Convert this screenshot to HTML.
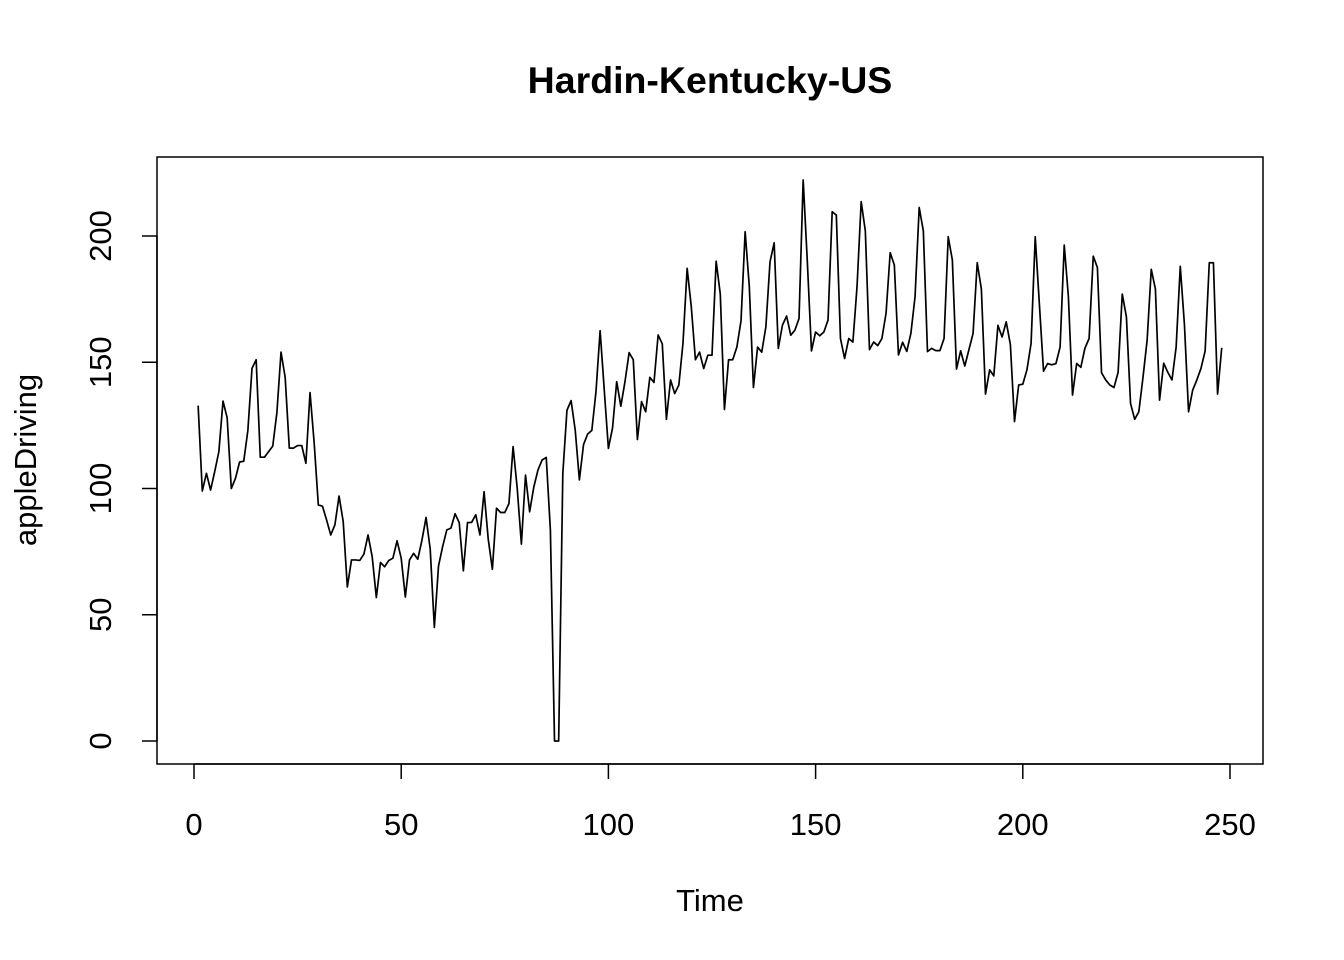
<!DOCTYPE html>
<html><head><meta charset="utf-8"><style>
html,body{margin:0;padding:0;background:#fff;}
svg{display:block;font-family:"Liberation Sans",Arial,sans-serif;}
</style></head><body>
<svg id="chart" width="1344" height="960" viewBox="0 0 1344 960" xmlns="http://www.w3.org/2000/svg">
<rect width="1344" height="960" fill="#fff"/>
<text x="710" y="93" text-anchor="middle" font-size="37.5" font-weight="bold">Hardin-Kentucky-US</text>
<rect x="157" y="157" width="1106" height="607" fill="none" stroke="#000" stroke-width="1.5"/>
<g id="xaxis"></g>
<g id="yaxis"></g>
<text x="710" y="911" text-anchor="middle" font-size="31">Time</text>
<text transform="translate(36,460) rotate(-90)" text-anchor="middle" font-size="31">appleDriving</text>
<g id="series"></g>
</svg>
<script>
const xTicks = [0, 50, 100, 150, 200, 250];
const yTicks = [0, 50, 100, 150, 200];
const values = [
132.8,99,106,99.4,106.7,114.6,134.6,128,100,104,110.5,110.8,123,147.6,151,112.4,112.4,114.6,116.8,130,
154,144,116,116,117,117,110,138,118,93.5,93,87.5,81.6,85.6,97,87,61,71.7,71.7,71.5,
74,81.6,73,56.8,70.7,69,71.5,72.4,79.3,72.4,57,71.7,74.3,72,79.5,88.5,76,45,69.3,77,
83.6,84.3,90,86.5,67.4,86.5,86.6,89.6,81.6,98.7,80,68,92.2,90.5,90.5,94,116.6,100,78,105.3,
90.8,100.6,107.3,111.3,112.3,83.6,0,0,106,131,134.8,123,103.4,117.4,121.6,123,138.3,162.5,139,115.9,
124,142.3,132.6,142.3,153.8,151,119.4,134.4,130.4,144,142,160.8,157.3,127.4,143,137.6,141,157.6,187.2,172,
151,154,147.5,152.8,152.8,190,177,131.3,151,151,156,166.4,201.7,180,140,156,154,164,189.8,197.3,
155.5,164.7,168.3,160.7,162.7,167.3,222.2,190,154.5,162,160.5,162,166.7,209.6,208.3,159.4,151.5,159.4,158,180,
213.6,202,155,158,156.6,159.4,169.4,193.4,188.5,152.9,157.9,154.3,161.5,176,211.3,202,154.2,155.5,154.6,154.6,
159.4,199.7,190.5,147.3,154.5,148.5,155,161.4,189.4,179,137.4,147,144.6,164.6,160,166,157,126.5,141,141.3,
147,157.5,199.7,173,146.5,149.5,149,149.5,156,196.4,176,137,149.5,148,155.6,159.4,192,187.5,145.8,143,
141,140,146,177,168,133.7,127.4,130.4,144,158.7,186.8,179,135,149.6,146,143,156,188,165,130.4,
139,143,147.6,154.5,189.4,189.4,137.4,155.7
];
const NS='http://www.w3.org/2000/svg';
const sx = t => 194 + (t - 0) * (1230 - 194) / 250;
const sy = v => 741 - v * (741 - 236) / 200;
const xa = document.getElementById('xaxis');
const ya = document.getElementById('yaxis');
function mk(tag, attrs, parent){const e=document.createElementNS(NS,tag);for(const k in attrs)e.setAttribute(k,attrs[k]);parent.appendChild(e);return e;}
mk('line',{x1:sx(xTicks[0]),x2:sx(xTicks[xTicks.length-1]),y1:764,y2:764,stroke:'#000','stroke-width':1.5},xa);
xTicks.forEach(t=>{
  const l=mk('line',{x1:sx(t),x2:sx(t),y1:764,y2:779,stroke:'#000','stroke-width':1.5},xa);
  
  
  const tx=mk('text',{x:sx(t),y:835,'text-anchor':'middle','font-size':31},xa);
  tx.textContent=t;
  
  
});
mk('line',{x1:157,x2:157,y1:sy(yTicks[0]),y2:sy(yTicks[yTicks.length-1]),stroke:'#000','stroke-width':1.5},ya);
yTicks.forEach(v=>{
  const l=mk('line',{x1:142,x2:157,y1:sy(v),y2:sy(v),stroke:'#000','stroke-width':1.5},ya);
  
  
  const tx=mk('text',{transform:`translate(111,${sy(v)}) rotate(-90)`,'text-anchor':'middle','font-size':31},ya);
  tx.textContent=v;
  
  
});
const pts = values.map((v,i)=>sx(i+1).toFixed(2)+','+sy(v).toFixed(2)).join(' ');
const line = mk('polyline',{points:pts,fill:'none',stroke:'#000','stroke-width':1.7,'stroke-linejoin':'round'},document.getElementById('series'));


</script>
</body></html>
